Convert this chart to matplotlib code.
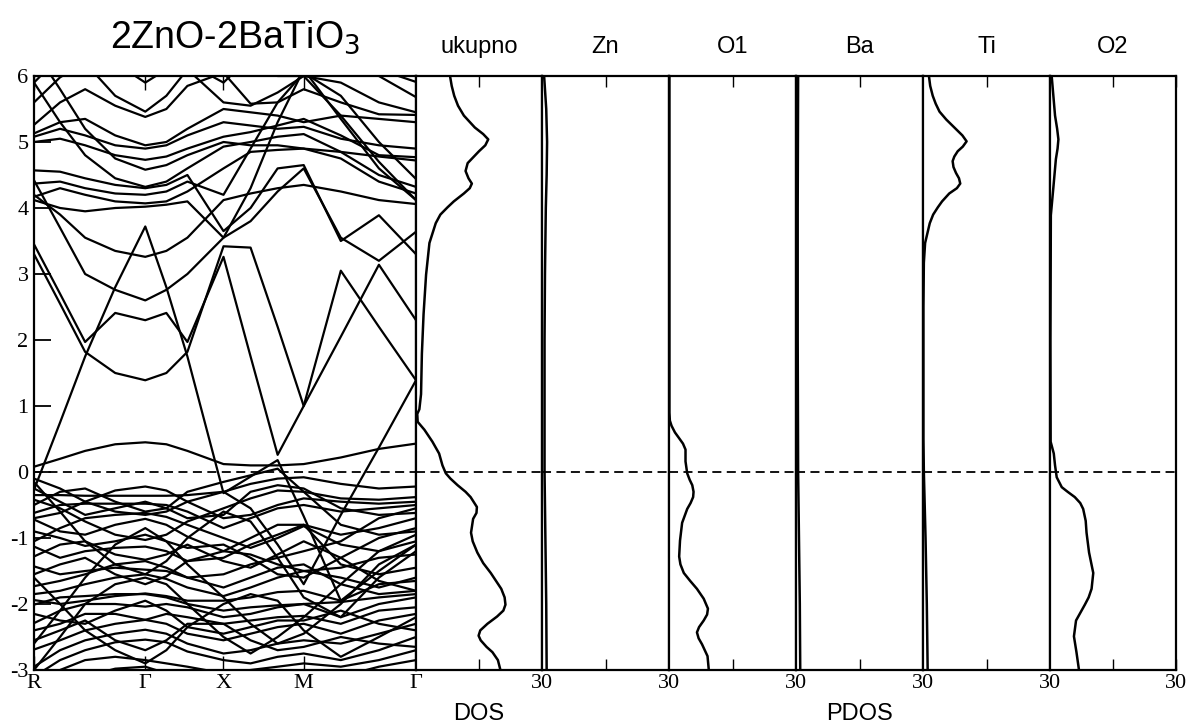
import matplotlib.pyplot as plt
import numpy as np

plt.rcParams['axes.unicode_minus'] = False

# k-path R - G - X - M - G (distances along the path)
kpts = [0, 26, 51, 81, 111, 132, 153, 189, 216, 243, 269, 306, 344, 381]
ksym = [0, 111, 189, 269, 381]
klabels = ['R', 'Γ', 'X', 'M', 'Γ']

# conduction-side bands (eV), one row per band, values at kpts
cond_bands = [
    [0.08, 0.20, 0.32, 0.42, 0.45, 0.42, 0.32, 0.12, 0.10, 0.10, 0.12, 0.22, 0.35, 0.43],
    [-0.27, 0.75, 1.75, 2.80, 3.72, 2.80, 1.75, -0.32, -0.07, 0.18, -0.67, -1.95, -1.50, -1.10],
    [3.30, 2.55, 1.82, 1.50, 1.39, 1.50, 1.82, 3.42, 3.40, 2.20, 1.00, 2.05, 3.14, 2.30],
    [3.45, 2.70, 1.97, 2.41, 2.30, 2.41, 1.97, 3.26, 1.75, 0.26, 1.00, 3.05, 2.20, 1.39],
    [-0.10, -0.25, -0.45, -0.60, -0.65, -0.60, -0.45, -0.30, -0.55, -1.10, -1.70, -0.65, 0.37, 1.39],
    [4.42, 3.70, 3.00, 2.76, 2.60, 2.76, 3.00, 3.55, 3.80, 4.25, 4.60, 3.55, 3.20, 3.64],
    [4.20, 3.90, 3.55, 3.35, 3.26, 3.35, 3.55, 4.12, 4.22, 4.30, 4.35, 4.25, 4.12, 4.06],
    [4.12, 4.00, 3.95, 4.00, 4.02, 4.05, 4.10, 3.55, 4.30, 5.30, 6.10, 5.35, 4.60, 4.12],
    [4.17, 4.30, 4.20, 4.10, 4.07, 4.10, 4.25, 4.60, 4.85, 4.88, 4.90, 4.85, 4.78, 4.72],
    [4.37, 4.40, 4.30, 4.22, 4.20, 4.25, 4.40, 4.20, 4.90, 5.60, 6.05, 5.70, 5.00, 4.44],
    [5.90, 5.30, 4.80, 4.45, 4.32, 4.40, 4.60, 4.93, 5.00, 5.08, 5.12, 4.85, 4.50, 4.32],
    [6.40, 5.80, 5.20, 4.75, 4.58, 4.65, 4.80, 5.00, 4.95, 4.95, 4.90, 4.75, 4.40, 4.22],
    [5.00, 5.05, 4.95, 4.80, 4.73, 4.78, 4.90, 5.08, 5.15, 5.25, 5.35, 5.10, 4.80, 4.77],
    [5.08, 5.20, 5.10, 4.95, 4.90, 4.95, 5.10, 5.30, 5.25, 5.20, 5.23, 5.05, 4.95, 4.90],
    [5.13, 5.30, 5.35, 5.10, 4.95, 5.00, 5.20, 5.50, 5.45, 5.40, 5.30, 5.40, 5.35, 5.30],
    [5.26, 5.60, 5.80, 5.55, 5.38, 5.50, 5.85, 6.05, 5.58, 5.60, 5.80, 5.60, 5.42, 5.41],
    [5.60, 5.98, 6.20, 5.70, 5.46, 5.70, 6.10, 6.30, 6.20, 6.00, 6.00, 5.90, 5.60, 5.45],
    [5.90, 6.30, 6.50, 6.20, 5.90, 6.10, 6.40, 6.50, 6.40, 6.30, 6.10, 6.40, 6.00, 5.68],
    [6.50, 6.40, 6.30, 6.30, 6.30, 6.20, 6.10, 5.60, 5.55, 5.75, 6.00, 5.40, 4.70, 4.12],
    [6.50, 6.50, 6.50, 6.50, 6.50, 6.40, 6.20, 5.90, 6.30, 6.50, 6.50, 6.20, 6.10, 5.91],
    [4.57, 4.55, 4.45, 4.35, 4.30, 4.35, 4.50, 3.65, 4.00, 4.60, 4.65, 3.50, 3.89, 3.30],
]

# valence-side bands (eV)
val_bands = [
    [-0.35, -0.35, -0.36, -0.36, -0.36, -0.36, -0.35, -0.30, -0.18, -0.10, -0.08, -0.18, -0.25, -0.22],
    [-0.70, -0.62, -0.45, -0.28, -0.22, -0.28, -0.45, -0.70, -0.65, -0.50, -0.40, -0.45, -0.48, -0.45],
    [-0.42, -0.55, -0.75, -0.95, -1.03, -0.95, -0.75, -0.55, -0.40, -0.28, -0.30, -0.40, -0.42, -0.38],
    [-0.62, -0.50, -0.48, -0.48, -0.48, -0.50, -0.60, -0.85, -0.70, -0.55, -0.50, -0.60, -0.55, -0.50],
    [-0.72, -0.90, -0.95, -0.80, -0.71, -0.80, -0.98, -1.20, -1.00, -0.80, -0.80, -0.95, -0.85, -0.70],
    [-1.05, -0.85, -0.70, -0.65, -0.62, -0.68, -0.80, -1.00, -1.15, -1.00, -0.82, -1.10, -1.20, -1.05],
    [-1.13, -1.30, -1.20, -1.15, -1.13, -1.20, -1.35, -1.30, -1.10, -0.95, -0.80, -1.40, -1.55, -1.45],
    [-1.28, -1.10, -1.05, -1.25, -1.33, -1.25, -1.10, -1.35, -1.45, -1.25, -1.05, -1.30, -1.65, -1.80],
    [-1.43, -1.55, -1.50, -1.45, -1.48, -1.50, -1.60, -1.55, -1.40, -1.30, -1.20, -1.05, -0.70, -0.55],
    [-1.73, -1.65, -1.55, -1.40, -1.35, -1.45, -1.60, -1.75, -1.60, -1.45, -1.40, -1.70, -1.85, -1.80],
    [-1.85, -1.80, -1.70, -1.60, -1.55, -1.62, -1.75, -1.88, -1.75, -1.60, -1.50, -1.60, -1.75, -1.60],
    [-1.94, -2.00, -1.95, -1.88, -1.84, -1.88, -1.95, -1.95, -1.90, -1.82, -1.80, -1.95, -1.70, -1.65],
    [-2.01, -1.90, -1.88, -1.85, -1.85, -1.90, -2.00, -2.10, -2.05, -2.02, -2.00, -1.97, -1.90, -1.85],
    [-2.29, -2.10, -2.00, -2.00, -2.04, -2.00, -2.05, -2.20, -2.15, -2.05, -2.00, -2.20, -2.00, -1.90],
    [-2.40, -2.30, -2.15, -2.15, -2.24, -2.15, -2.20, -2.30, -2.25, -2.20, -2.18, -2.30, -2.10, -2.05],
    [-2.69, -2.55, -2.40, -2.30, -2.24, -2.30, -2.45, -2.55, -2.45, -2.35, -2.30, -2.45, -2.25, -2.15],
    [-2.95, -2.70, -2.55, -2.45, -2.39, -2.45, -2.60, -2.75, -2.70, -2.60, -2.55, -2.60, -2.45, -2.30],
    [-3.10, -2.85, -2.70, -2.58, -2.54, -2.58, -2.72, -2.85, -2.90, -2.80, -2.75, -2.85, -2.70, -2.50],
    [-3.20, -3.00, -2.85, -2.80, -2.85, -2.90, -2.95, -3.05, -3.00, -2.95, -2.90, -2.95, -2.85, -2.70],
    [-3.30, -3.20, -3.10, -2.98, -2.95, -3.05, -3.20, -3.20, -3.10, -3.05, -3.00, -3.10, -2.95, -2.85],
    [-0.15, -0.60, -1.05, -1.40, -1.55, -1.35, -1.00, -0.60, -0.75, -1.30, -1.90, -2.20, -1.60, -1.20],
    [-2.60, -2.10, -1.60, -1.10, -0.85, -1.05, -1.40, -1.90, -2.30, -2.60, -2.45, -2.00, -1.40, -1.10],
    [-1.60, -2.00, -2.40, -2.70, -2.90, -2.70, -2.35, -2.00, -1.85, -1.95, -2.40, -2.80, -2.50, -2.20],
    [-3.00, -2.50, -2.00, -1.70, -1.60, -1.70, -2.00, -2.50, -2.75, -2.50, -2.20, -1.70, -1.20, -0.95],
    [-0.50, -0.30, -0.25, -0.45, -0.60, -0.55, -0.30, -0.15, -0.05, 0.05, -0.30, -0.80, -0.95, -0.90],
    [-0.90, -1.00, -1.12, -1.05, -0.95, -1.05, -1.15, -1.10, -1.30, -1.55, -1.60, -1.30, -1.00, -0.85],
    [-1.55, -1.40, -1.30, -1.55, -1.70, -1.58, -1.35, -1.20, -1.25, -1.40, -1.50, -1.45, -1.30, -1.25],
    [-2.15, -2.25, -2.30, -2.10, -1.95, -2.10, -2.35, -2.45, -2.35, -2.25, -2.25, -2.10, -2.30, -2.40],
    [-2.55, -2.40, -2.25, -2.55, -2.70, -2.55, -2.30, -2.30, -2.55, -2.70, -2.65, -2.50, -2.60, -2.65],
    [-0.25, -0.45, -0.65, -0.55, -0.45, -0.55, -0.70, -0.65, -0.30, -0.20, -0.25, -0.55, -0.65, -0.62],
]

# total DOS (ukupno)
e_tot = [6.0, 5.85, 5.7, 5.55, 5.4, 5.22, 5.12, 5.04, 4.95, 4.86, 4.68, 4.56, 4.45, 4.37, 4.30,
         4.22, 4.10, 4.01, 3.90, 3.77, 3.47, 2.99, 2.39, 1.79, 1.18, 0.95, 0.88, 0.76, 0.64,
         0.46, 0.28, 0.10, -0.02, -0.10, -0.20, -0.30, -0.38, -0.53, -0.62, -0.71, -0.92,
         -1.05, -1.22, -1.38, -1.53, -1.77, -1.90, -2.01, -2.10, -2.19, -2.30, -2.40, -2.48,
         -2.55, -2.65, -2.73, -2.85, -3.0]
dos_tot = [8.1, 8.5, 9.1, 10.0, 11.4, 14.0, 16.0, 17.2, 16.5, 15.0, 12.3, 11.8, 12.5, 13.3, 12.8,
           11.4, 9.0, 7.5, 5.8, 4.7, 3.2, 2.4, 1.8, 1.4, 1.2, 0.8, 0.3, 0.4, 2.0,
           3.9, 5.5, 6.3, 7.1, 8.2, 9.9, 11.8, 13.0, 14.5, 14.4, 13.6, 13.1,
           13.5, 14.6, 16.0, 17.8, 20.3, 21.1, 21.3, 20.8, 19.3, 17.0, 15.3, 14.9,
           15.4, 16.8, 18.2, 19.5, 20.1]

# PDOS
e_zn = [6.0, 5.5, 5.0, 4.5, 4.0, 3.0, 2.0, 1.0, 0.0, -1.0, -2.0, -3.0]
dos_zn = [0.5, 1.0, 1.2, 1.1, 0.9, 0.7, 0.6, 0.6, 0.6, 0.8, 1.0, 1.1]

e_o1 = [6.0, 3.0, 0.9, 0.78, 0.70, 0.60, 0.52, 0.43, 0.34, 0.16, -0.02, -0.12, -0.20, -0.30,
        -0.38, -0.47, -0.56, -0.77, -1.04, -1.28, -1.40, -1.53, -1.65, -1.77, -1.92, -2.07,
        -2.16, -2.25, -2.35, -2.43, -2.52, -2.61, -2.79, -3.0]
dos_o1 = [0.1, 0.1, 0.1, 0.2, 0.6, 1.4, 2.3, 3.3, 3.9, 3.9, 4.3, 4.9, 5.5, 5.8,
          5.7, 5.1, 4.3, 3.1, 2.6, 2.4, 2.7, 3.5, 5.0, 6.6, 8.2, 9.2,
          9.0, 8.2, 7.1, 6.6, 7.0, 7.8, 9.1, 9.4]

e_ba = [6.0, 4.0, 2.0, 0.0, -1.0, -2.0, -3.0]
dos_ba = [0.5, 0.4, 0.4, 0.5, 0.7, 0.9, 1.0]

e_ti = [6.0, 5.85, 5.70, 5.58, 5.46, 5.34, 5.22, 5.10, 5.01, 4.93, 4.86, 4.78, 4.71, 4.62,
        4.53, 4.45, 4.37, 4.30, 4.22, 4.10, 4.01, 3.90, 3.77, 3.47, 3.17,
        2.5, 0.5, 0.0, -1.0, -2.0, -3.0]
dos_ti = [1.4, 1.7, 2.3, 3.0, 3.9, 5.5, 7.4, 9.3, 10.3, 9.4, 8.2, 7.4, 7.0, 7.2,
          7.8, 8.5, 8.8, 8.0, 6.2, 4.5, 3.5, 2.4, 1.6, 0.5, 0.2,
          0.1, 0.1, 0.2, 0.6, 0.9, 1.1]

e_o2 = [6.0, 5.40, 5.20, 5.04, 4.90, 4.74, 4.31, 3.89, 2.0, 0.46, 0.28, 0.10, -0.08, -0.23,
        -0.30, -0.38, -0.47, -0.56, -0.74, -0.92, -1.22, -1.53, -1.77, -1.90, -2.01, -2.25,
        -2.49, -2.73, -3.0]
dos_o2 = [0.4, 1.2, 1.7, 2.0, 1.8, 1.4, 0.8, 0.2, 0.1, 0.15, 0.9, 1.2, 1.6, 2.8,
          4.2, 5.9, 7.2, 7.9, 8.5, 8.7, 9.3, 10.3, 9.9, 9.2, 8.3, 6.2,
          5.7, 6.3, 6.9]

panel_titles = ['ukupno', 'Zn', 'O1', 'Ba', 'Ti', 'O2']
panel_data = [(e_tot, dos_tot), (e_zn, dos_zn), (e_o1, dos_o1),
              (e_ba, dos_ba), (e_ti, dos_ti), (e_o2, dos_o2)]

W, H = 1195, 727
top_px, bot_px = 76, 670
serif = 'Liberation Serif'
sans = 'Liberation Sans'

fig = plt.figure(figsize=(W / 100, H / 100), dpi=100)


def box(x0, x1):
    return [x0 / W, (H - bot_px) / H, (x1 - x0) / W, (bot_px - top_px) / H]


def style(ax):
    for s in ax.spines.values():
        s.set_linewidth(1.6)
    ax.set_ylim(-3, 6)


# band structure
axb = fig.add_axes(box(34, 416))
for b in cond_bands + val_bands:
    axb.plot(kpts, b, color='k', lw=1.6, solid_joinstyle='round')
axb.axhline(0, color='k', lw=1.3, ls=(0, (5, 3)))
axb.set_xlim(0, 381)
style(axb)
axb.set_yticks(range(-3, 7))
axb.set_yticklabels([str(v) for v in range(-3, 7)], fontfamily=serif, fontsize=16)
axb.set_xticks(ksym)
axb.set_xticklabels(klabels, fontfamily=serif, fontsize=16)
axb.tick_params(axis='y', direction='in', length=12, width=1.3, right=False, pad=4)
axb.tick_params(axis='x', direction='in', length=10, width=1.0, top=True, pad=3)

# DOS / PDOS panels
edges = [416, 542, 669, 796, 923, 1050, 1176]
for i, (e, d) in enumerate(panel_data):
    ax = fig.add_axes(box(edges[i], edges[i + 1]))
    ax.plot(d, e, color='k', lw=1.8, solid_joinstyle='round')
    ax.axhline(0, color='k', lw=1.3, ls=(0, (5, 3)))
    ax.set_xlim(0, 30)
    style(ax)
    ax.set_yticks([])
    ax.set_xticks([15, 30])
    ax.set_xticklabels(['', '30'], fontfamily=serif, fontsize=16)
    ax.tick_params(axis='x', direction='in', length=8, width=1.0, top=True, pad=3)
    xc = (edges[i] + edges[i + 1]) / 2
    fig.text(xc / W, 1 - 47 / H, panel_titles[i], ha='center', va='center',
             fontfamily=sans, fontsize=17)

fig.text(235 / W, 1 - 37 / H, '2ZnO-2BaTiO$_3$', ha='center', va='center',
         fontfamily=sans, fontsize=27)
fig.text(479 / W, 1 - 714 / H, 'DOS', ha='center', va='center', fontfamily=sans, fontsize=17)
fig.text(859 / W, 1 - 714 / H, 'PDOS', ha='center', va='center', fontfamily=sans, fontsize=17)

fig.savefig('out.png', dpi=100)
